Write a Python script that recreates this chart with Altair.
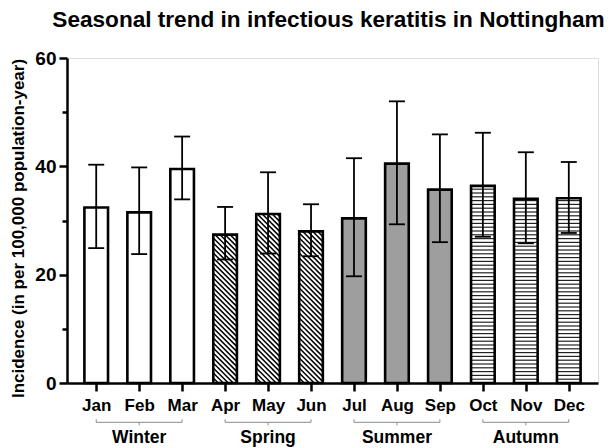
import altair as alt
import pandas as pd

# ---------------- data ----------------
months = ["Jan", "Feb", "Mar", "Apr", "May", "Jun",
          "Jul", "Aug", "Sep", "Oct", "Nov", "Dec"]
incidence = [32.4, 31.5, 39.5, 27.4, 31.2, 28.0, 30.4, 40.5, 35.7, 36.4, 34.0, 34.1]
ci_low = [24.9, 23.8, 33.9, 22.8, 23.9, 23.4, 19.7, 29.3, 26.0, 27.0, 25.8, 27.7]
ci_high = [40.3, 39.8, 45.5, 32.5, 38.9, 33.0, 41.5, 52.0, 45.9, 46.2, 42.6, 40.8]
seasons = ["Winter", "Spring", "Summer", "Autumn"]
season_of_month = ["Winter"] * 3 + ["Spring"] * 3 + ["Summer"] * 3 + ["Autumn"] * 3

# ---------------- layout / style ----------------
FONT = "Liberation Sans"
W, H = 531, 325
XMIN, XMAX = -0.68, 11.68
YMIN, YMAX = 0, 60
PXX = W / (XMAX - XMIN)
PXY = H / (YMAX - YMIN)
HALF = 0.275          # half bar width (x units)
CAP = 0.186           # half cap width
season_fill = ["white", "white", "#9e9e9e", "white"]

xs = alt.Scale(domain=[XMIN, XMAX], nice=False, zero=False)
ys = alt.Scale(domain=[YMIN, YMAX], nice=False)

label_expr = "[" + ",".join("'%s'" % m for m in months) + "][datum.value]"
xaxis = alt.Axis(values=list(range(len(months))), labelExpr=label_expr, title=None,
                 grid=False, domainColor="black", domainWidth=2.5, tickColor="black",
                 tickWidth=2.5, tickSize=8, labelFont=FONT, labelFontSize=17,
                 labelFontWeight="bold", labelColor="black", labelPadding=19,
                 labelBaseline="alphabetic", labelFlush=False)
yaxis = alt.Axis(values=[0, 10, 20, 30, 40, 50, 60],
                 labelExpr="datum.value % 20 === 0 ? datum.label : ''",
                 title="Incidence (in per 100,000 population-year)",
                 grid=False, domainColor="black", domainWidth=2.5, tickColor="black",
                 tickWidth=2.5,
                 tickSize={"condition": {"test": "datum.value % 20 === 0", "value": 8}, "value": 5},
                 labelFont=FONT, labelFontSize=19, labelFontWeight="bold",
                 labelColor="black", labelPadding=3, labelFlush=False,
                 titleFont=FONT, titleFontSize=17, titleFontWeight="bold",
                 titleColor="black", titleX=-44, titleY=170,
                 titleBaseline="alphabetic", titleAngle=270)

# ---------------- tables ----------------
bars = pd.DataFrame({
    "idx": list(range(len(months))),
    "month": months,
    "value": incidence,
    "lo": ci_low,
    "hi": ci_high,
    "season": season_of_month,
})
bars["x0"] = bars["idx"] - HALF
bars["x1"] = bars["idx"] + HALF
bars["zero"] = 0.0
bars["c0"] = bars["idx"] - CAP
bars["c1"] = bars["idx"] + CAP

caps = pd.concat([
    bars[["c0", "c1"]].assign(yv=bars["lo"]),
    bars[["c0", "c1"]].assign(yv=bars["hi"]),
], ignore_index=True)

# hatching derived from the bar values
hatch_rows = []
for i, v, s in zip(bars["idx"], incidence, season_of_month):
    wp = 2 * HALF * PXX
    hp = v * PXY
    if s == "Spring":
        step = 5.0
        k = 1
        while k * step < wp + hp:
            c = k * step
            u1 = max(0.0, c - hp)
            u2 = min(wp, c)
            hatch_rows.append({"hx": i - HALF + u1 / PXX, "hx2": i - HALF + u2 / PXX,
                               "hy": (c - u1) / PXY, "hy2": (c - u2) / PXY,
                               "kind": "diag"})
            k += 1
    elif s == "Autumn":
        step = 3.8
        k = 1
        while k * step < hp - 1:
            yv = k * step / PXY
            hatch_rows.append({"hx": i - HALF, "hx2": i + HALF, "hy": yv, "hy2": yv,
                               "kind": "horiz"})
            k += 1
hatch = pd.DataFrame(hatch_rows)

sgroups = []
for s in seasons:
    ids = [i for i, m in enumerate(season_of_month) if m == s]
    sgroups.append({"season": s, "start": min(ids), "end": max(ids),
                    "mid": (min(ids) + max(ids)) / 2})
sg = pd.DataFrame(sgroups)

# ---------------- layers ----------------
fill = alt.Chart(bars).mark_rect(strokeWidth=0).encode(
    x=alt.X("x0:Q", scale=xs, axis=xaxis),
    x2="x1:Q",
    y=alt.Y("value:Q", scale=ys, axis=yaxis),
    y2="zero:Q",
    color=alt.Color("season:N", scale=alt.Scale(domain=seasons, range=season_fill), legend=None),
)

diag = alt.Chart(hatch).transform_filter("datum.kind === 'diag'").mark_rule(
    color="black", strokeWidth=1.5).encode(
    x=alt.X("hx:Q", scale=xs, axis=xaxis), x2="hx2:Q",
    y=alt.Y("hy:Q", scale=ys, axis=yaxis), y2="hy2:Q")

horiz = alt.Chart(hatch).transform_filter("datum.kind === 'horiz'").mark_rule(
    color="#222222", strokeWidth=1.2).encode(
    x=alt.X("hx:Q", scale=xs, axis=xaxis), x2="hx2:Q",
    y=alt.Y("hy:Q", scale=ys, axis=yaxis))

outline = alt.Chart(bars).mark_rect(fillOpacity=0, stroke="black", strokeWidth=2.6).encode(
    x=alt.X("x0:Q", scale=xs, axis=xaxis), x2="x1:Q",
    y=alt.Y("value:Q", scale=ys, axis=yaxis), y2="zero:Q")

err = alt.Chart(bars).mark_rule(color="black", strokeWidth=1.8).encode(
    x=alt.X("idx:Q", scale=xs, axis=xaxis),
    y=alt.Y("lo:Q", scale=ys, axis=yaxis), y2="hi:Q")

capl = alt.Chart(caps).mark_rule(color="black", strokeWidth=1.8).encode(
    x=alt.X("c0:Q", scale=xs, axis=xaxis), x2="c1:Q",
    y=alt.Y("yv:Q", scale=ys, axis=yaxis))

BR_Y = 364.3
br = alt.Chart(sg).mark_rule(color="#8a8a8a", strokeWidth=1).encode(
    x=alt.X("start:Q", scale=xs, axis=xaxis), x2="end:Q", y=alt.value(BR_Y))
br_l = alt.Chart(sg).mark_rule(color="#8a8a8a", strokeWidth=1).encode(
    x=alt.X("start:Q", scale=xs, axis=xaxis), y=alt.value(BR_Y - 3), y2=alt.value(BR_Y))
br_r = alt.Chart(sg).mark_rule(color="#8a8a8a", strokeWidth=1).encode(
    x=alt.X("end:Q", scale=xs, axis=xaxis), y=alt.value(BR_Y - 3), y2=alt.value(BR_Y))
br_m = alt.Chart(sg).mark_rule(color="#8a8a8a", strokeWidth=1).encode(
    x=alt.X("mid:Q", scale=xs, axis=xaxis), y=alt.value(BR_Y), y2=alt.value(BR_Y + 3))

stext = alt.Chart(sg).mark_text(font=FONT, fontSize=17.5, fontWeight="bold", color="black",
                                baseline="alphabetic", align="center").encode(
    x=alt.X("mid:Q", scale=xs, axis=xaxis), y=alt.value(385), text="season:N")

chart = alt.layer(fill, diag, horiz, outline, err, capl, br, br_l, br_r, br_m, stext).properties(
    width=W, height=H,
    title=alt.Title("Seasonal trend in infectious keratitis in Nottingham",
                    font=FONT, fontSize=22.6, fontWeight="bold", color="black",
                    anchor="middle", offset=17, dx=-4),
    padding={"left": 59, "top": 50, "right": 10, "bottom": 65},
    autosize=alt.AutoSizeParams(type="none"),
).configure_view(stroke=None).configure(background="white")

chart.save("out.html", embed_options={"renderer": "svg", "actions": False})
